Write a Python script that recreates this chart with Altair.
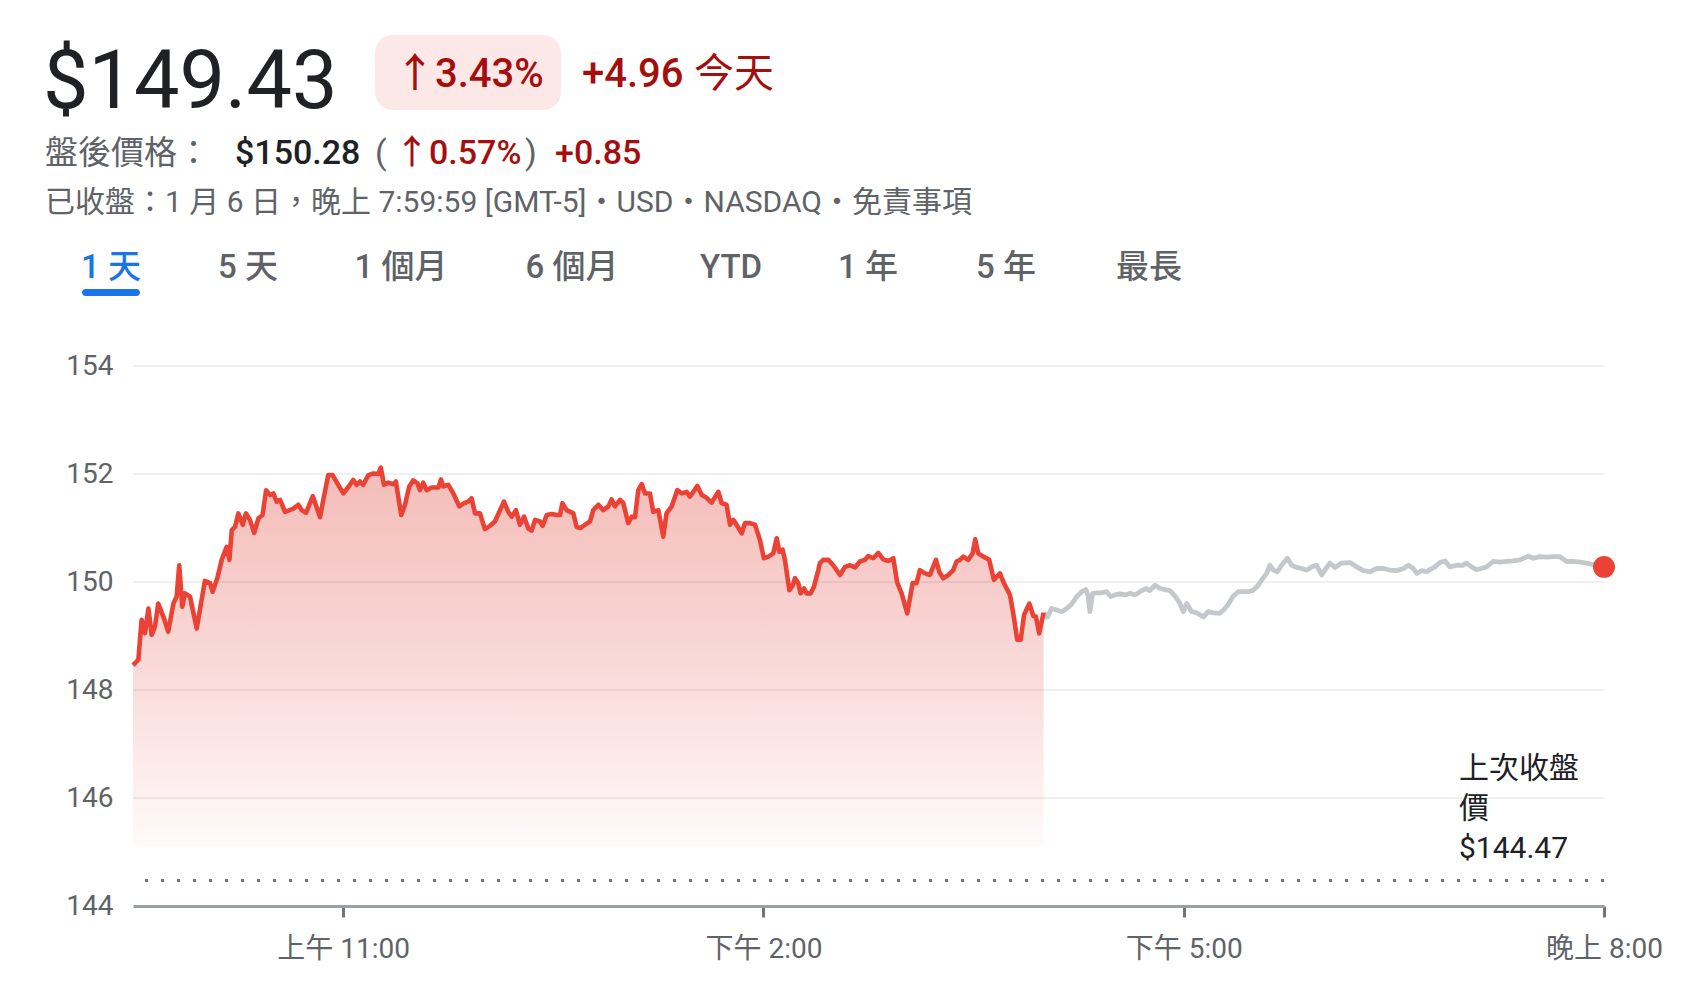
import altair as alt
import pandas as pd

FONT = "Roboto, 'Noto Sans CJK TC', sans-serif"
RED = "#ea4335"
DARK_RED = "#a50e0e"
GRAY_TXT = "#5f6368"
BLACK = "#202124"
BLUE = "#1a73e8"

# ---- data (minutes since 09:30, price) ----
REG_MIN = [0, 2.3, 3.7, 5.1, 6.6, 8.0, 9.4, 10.8, 13.0, 15.1, 17.3, 18.7, 19.8, 21.1, 22.3, 24.4, 27.3, 29.4, 30.8, 33.0,
           34.1, 36.1, 38.0, 40.1, 41.3, 42.3, 43.7, 45.1, 47.0, 48.4, 50.1, 51.9, 53.7, 55.5, 57.0, 58.7, 60.1, 61.5, 63.0,
           65.1, 68.7, 70.8, 72.3, 74.1, 77.0, 80.1, 81.5, 83.6, 85.5, 87.9, 90.1, 92.9, 94.3, 95.8,
           97.2, 98.6, 100.8, 102.9, 105.1, 106.1, 107.5, 109.4, 111.5, 112.6, 113.6, 114.9, 116.5, 118.3, 120.0, 121.8,
           122.9, 124.3, 125.8, 127.9, 130.8, 131.9, 132.9, 135.0, 137.2, 139.8, 141.8, 143.6, 145.0, 146.5, 148.6, 150.7,
           152.9, 155.0, 156.9, 158.9, 160.7, 162.2, 164.0, 165.7, 167.5, 169.3, 170.7, 172.2, 174.3, 175.4, 177.2, 179.3,
           181.5, 182.9, 183.9, 185.7, 188.6, 190.0, 191.7, 193.6,
           195.7, 197.1, 199.3, 201.4, 203.6, 205.0, 206.4, 208.6, 210.0, 212.1, 213.6, 215.0, 216.4, 217.9, 219.3, 221.4,
           222.8, 225.0, 227.1, 228.5, 230.7, 233.1, 235.0, 237.1, 238.5, 240.3, 241.7, 243.6, 245.7, 247.8, 250.7, 252.1,
           254.2, 255.7, 257.1, 258.5, 260.7, 262.1, 264.2, 266.4, 268.5, 270.2, 272.1, 274.2, 275.7, 276.8, 278.2, 279.2,
           281.1, 282.5, 283.5, 284.9, 285.9, 287.4, 288.5, 290.2, 291.6, 293.5,
           294.2, 295.6, 297.8, 299.9, 302.8, 304.9, 307.1, 309.2, 311.3, 313.5, 314.9, 317.0, 319.2, 321.3, 323.5, 325.6,
           327.3, 329.2, 331.6, 333.9, 335.6, 337.0, 339.2, 341.3, 343.9, 345.3, 347.0, 349.2, 351.3, 352.7, 354.2, 355.6,
           357.7, 359.6, 360.7, 362.0, 364.2, 366.7, 368.7, 371.3, 373.0, 375.6, 377.0, 378.7, 380.2, 381.6, 383.9, 385.6,
           386.7, 388.1, 390.0]
REG_PRICE = [148.46, 148.56, 149.30, 149.05, 149.51, 149.02, 149.17, 149.60, 149.36, 149.08, 149.60, 149.73, 150.31, 149.54,
             149.79, 149.73, 149.14, 149.67, 150.02, 149.98, 149.82, 150.07, 150.41, 150.65, 150.41, 150.96, 151.02, 151.27,
             151.06, 151.27, 151.15, 150.91, 151.18, 151.24, 151.70, 151.61, 151.64, 151.49, 151.52, 151.30, 151.36, 151.43,
             151.33, 151.28, 151.59, 151.20, 151.52, 151.98, 151.98, 151.80, 151.64, 151.80, 151.89, 151.80,
             151.86, 151.80, 151.98, 152.01, 152.00, 152.12, 151.80, 151.84, 151.81, 151.86, 151.58, 151.24, 151.43, 151.77,
             151.88, 151.83, 151.70, 151.84, 151.70, 151.75, 151.75, 151.90, 151.77, 151.80, 151.64, 151.40, 151.46, 151.49,
             151.55, 151.27, 151.27, 150.98, 151.04, 151.12, 151.30, 151.49, 151.30, 151.21, 151.33, 151.06, 151.21, 150.99,
             150.95, 151.15, 151.12, 151.04, 151.24, 151.26, 151.24, 151.24, 151.46, 151.33, 151.27, 151.02, 151.00, 151.06,
             151.12, 151.33, 151.43, 151.33, 151.40, 151.53, 151.40, 151.52, 151.46, 151.09, 151.21, 151.20, 151.70, 151.81,
             151.64, 151.64, 151.30, 151.33, 150.84, 151.27, 151.40, 151.70, 151.64, 151.67, 151.58, 151.69, 151.78, 151.61,
             151.56, 151.47, 151.67, 151.46, 151.43, 151.06, 151.15, 151.06, 150.90, 151.09, 151.09, 151.06, 150.78, 150.44,
             150.47, 150.53, 150.81, 150.56, 150.60, 150.41, 149.85, 149.93, 150.07, 149.98, 149.79, 149.88, 149.79, 149.79,
             149.91, 150.22,
             150.35, 150.41, 150.41, 150.31, 150.13, 150.28, 150.31, 150.27, 150.38, 150.41, 150.48, 150.44, 150.54, 150.42,
             150.39, 150.44, 149.99, 149.79, 149.42, 149.98, 149.98, 150.22, 150.16, 150.13, 150.41, 150.19, 150.07, 150.13,
             150.22, 150.38, 150.41, 150.47, 150.41, 150.53, 150.79, 150.53, 150.47, 150.41, 150.04, 150.16, 149.98, 149.76,
             149.42, 148.93, 148.93, 149.39, 149.60, 149.37, 149.36, 149.05, 149.43]

AH_MIN = [390.0, 391.6, 393.4, 395.6, 397.7, 399.9, 402.0, 404.2, 406.3, 408.1, 409.1, 409.8, 411.0, 412.7, 414.8, 417.0,
          418.7, 420.6, 422.7, 424.8, 427.0, 429.1, 431.3, 433.8, 435.5, 437.7, 439.8, 442.0, 444.1, 446.3, 448.4, 449.8,
          451.3, 453.4, 455.5, 458.4, 460.5, 462.7, 465.5, 467.7, 469.1, 471.2, 473.4, 475.5, 477.7, 479.8, 481.9, 483.4,
          485.5, 486.9, 488.4, 490.1, 491.9, 494.4, 496.2, 498.4, 500.5, 502.7, 504.8, 506.9, 509.1, 510.9, 512.6, 514.8,
          517.6, 521.2, 524.1, 526.9, 529.8, 532.6, 535.5, 538.3, 541.2, 544.1, 546.2, 548.3, 549.8, 551.9, 554.1, 555.5,
          557.6, 559.7, 561.9, 564.0, 566.9, 569.7, 571.1, 573.3, 575.4, 577.5, 579.7, 582.5, 585.4, 588.2, 591.1, 594.0,
          597.5, 599.7, 602.5, 605.4, 608.2, 611.1, 614.0, 616.8, 619.7, 622.5, 626.8, 630.0]
AH_PRICE = [149.43, 149.35, 149.51, 149.48, 149.45, 149.51, 149.59, 149.73, 149.82, 149.86, 149.73, 149.45, 149.79, 149.80,
            149.80, 149.82, 149.73, 149.76, 149.78, 149.76, 149.79, 149.76, 149.82, 149.88, 149.84, 149.94, 149.88, 149.86,
            149.84, 149.74, 149.60, 149.45, 149.60, 149.45, 149.43, 149.35, 149.45, 149.43, 149.42, 149.51, 149.59, 149.74,
            149.82, 149.82, 149.82, 149.85, 149.94, 150.04, 150.16, 150.31, 150.22, 150.19, 150.31, 150.44, 150.31, 150.27,
            150.25, 150.22, 150.28, 150.31, 150.13, 150.25, 150.35, 150.27, 150.35, 150.36, 150.28, 150.21, 150.19, 150.25,
            150.25, 150.22, 150.21, 150.25, 150.31, 150.25, 150.16, 150.21, 150.19, 150.23, 150.28, 150.36, 150.39, 150.28,
            150.31, 150.31, 150.35, 150.28, 150.23, 150.25, 150.28, 150.38, 150.37, 150.38, 150.39, 150.41, 150.48, 150.44,
            150.47, 150.46, 150.47, 150.47, 150.38, 150.38, 150.37, 150.35, 150.31, 150.28]

PREV_CLOSE = 144.47
LAST_MIN, LAST_PRICE = 630, 150.28
AREA_BASE = 145.1

Y_TICKS = [144, 146, 148, 150, 152, 154]
X_TICKS = [90, 270, 450, 630]
X_LABELS = ["上午 11:00", "下午 2:00", "下午 5:00", "晚上 8:00"]

PRICE_TXT = "$149.43"
CHG_PCT_TXT = "↑3.43%"
CHG_TXT = "+4.96"
TODAY_TXT = "今天"
AH_LABEL = "盤後價格："
AH_PRICE_TXT = "$150.28"
AH_PCT_TXT = "↑0.57%"
AH_CHG_TXT = "+0.85"
INFO_TXT = "已收盤：1 月 6 日，晚上 7:59:59 [GMT-5]・USD・NASDAQ・免責事項"
TABS = ["1 天", "5 天", "1 個月", "6 個月", "YTD", "1 年", "5 年", "最長"]
PREV_LABEL = ["上次收盤", "價", "$144.47"]

reg = pd.DataFrame({"m": REG_MIN, "p": REG_PRICE})
ah = pd.DataFrame({"m": AH_MIN, "p": AH_PRICE})
last = pd.DataFrame({"m": [LAST_MIN], "p": [LAST_PRICE]})
grid = pd.DataFrame({"p": Y_TICKS[1:]})
prev = pd.DataFrame({"p": [PREV_CLOSE]})

label_expr = " : ".join(
    [f"datum.value == {v} ? '{l}'" for v, l in zip(X_TICKS, X_LABELS)]) + " : ''"

xs = alt.Scale(domain=[0, 630], nice=False, zero=False)
ys = alt.Scale(domain=[144, 154], nice=False, zero=False)

X = alt.X("m:Q", scale=xs, axis=alt.Axis(
    values=X_TICKS, labelExpr=label_expr, title=None, grid=False,
    domainColor="#9aa0a6", domainWidth=3, tickColor="#70757a", tickWidth=3, tickSize=11,
    labelFontSize=28, labelColor=GRAY_TXT, labelFont=FONT, labelPadding=18,
    labelFlush=False, labelOverlap=False, labelAlign="center"))
Y = alt.Y("p:Q", scale=ys, axis=alt.Axis(
    values=Y_TICKS, title=None, grid=False, domain=False, ticks=False,
    labelFontSize=28, labelColor=GRAY_TXT, labelFont=FONT, labelPadding=20))

grad = alt.Gradient(
    gradient="linear", x1=0, x2=0, y1=0, y2=1,
    stops=[alt.GradientStop(color="#f4bcb8", offset=0),
           alt.GradientStop(color="#f9d8d7", offset=0.5),
           alt.GradientStop(color="#fffafa", offset=1)])

area = alt.Chart(reg).mark_area(color=grad).encode(x=X, y=Y, y2=alt.datum(AREA_BASE))
grid_rules = alt.Chart(grid).mark_rule(color="#000000", opacity=0.06, strokeWidth=2).encode(y=alt.Y("p:Q", scale=ys))
prev_rule = alt.Chart(prev).mark_rule(color="#70757a", strokeWidth=3, strokeDash=[3, 13]).encode(y=alt.Y("p:Q", scale=ys))
ah_line = alt.Chart(ah).mark_line(color="#c4c7cb", strokeWidth=4.8, strokeJoin="round").encode(x=alt.X("m:Q", scale=xs), y=alt.Y("p:Q", scale=ys))
reg_line = alt.Chart(reg).mark_line(color=RED, strokeWidth=4.6, strokeJoin="round").encode(x=alt.X("m:Q", scale=xs), y=alt.Y("p:Q", scale=ys))
dot = alt.Chart(last).mark_circle(color=RED, opacity=1, size=480).encode(x=alt.X("m:Q", scale=xs), y=alt.Y("p:Q", scale=ys))

one = pd.DataFrame({"k": [0]})


def txt(s, x, y, size, color, weight=400, align="left", baseline="middle", line_height=None):
    kw = dict(text=s, font=FONT, fontSize=size, fontWeight=weight, color=color, align=align, baseline=baseline)
    if line_height is not None:
        kw["lineHeight"] = line_height
    return alt.Chart(one).mark_text(**kw).encode(x=alt.value(x), y=alt.value(y))


def box(x, x2, y, y2, color, radius):
    return alt.Chart(one).mark_rect(color=color, cornerRadius=radius).encode(
        x=alt.value(x), x2=alt.value(x2), y=alt.value(y), y2=alt.value(y2))


prev_text = txt(PREV_LABEL, 1326, 403, 30, BLACK, line_height=40)

header = [
    txt(PRICE_TXT, -90, -258, 81, BLACK, baseline="alphabetic"),
    box(242, 428, -331, -256, "#fce8e6", 18),
    txt(CHG_PCT_TXT, 262, -279, 40, DARK_RED, 500, baseline="alphabetic"),
    txt(CHG_TXT, 449, -279, 40, DARK_RED, 500, baseline="alphabetic"),
    txt(TODAY_TXT, 561, -279, 40, DARK_RED, 400, baseline="alphabetic"),
    txt(AH_LABEL, -88, -212, 33, GRAY_TXT),
    txt(AH_PRICE_TXT, 102, -212, 34, BLACK, 500),
    txt("(", 242, -212, 34, GRAY_TXT),
    txt(AH_PCT_TXT, 262, -212, 34, DARK_RED, 500),
    txt(")", 392, -212, 34, GRAY_TXT),
    txt(AH_CHG_TXT, 422, -212, 34, DARK_RED, 500),
    txt(INFO_TXT, -88, -163, 30, GRAY_TXT),
]
tab_cx = [-22, 115, 268, 439, 598, 735, 873, 1016]
for i, (t, cx) in enumerate(zip(TABS, tab_cx)):
    header.append(txt(t, cx, -98, 33, BLUE if i == 0 else GRAY_TXT, 500, align="center"))
header.append(box(-51, 7, -77, -70, BLUE, 4))

chart = alt.layer(area, grid_rules, prev_rule, ah_line, reg_line, dot, prev_text, *header).properties(
    width=1471, height=540,
    padding={"left": 125, "top": 358, "right": 80, "bottom": 70},
    autosize=alt.AutoSizeParams(type="none"),
    background="white",
).configure_view(stroke=None)

chart.save("out.html", embed_options={"renderer": "svg", "actions": False})
